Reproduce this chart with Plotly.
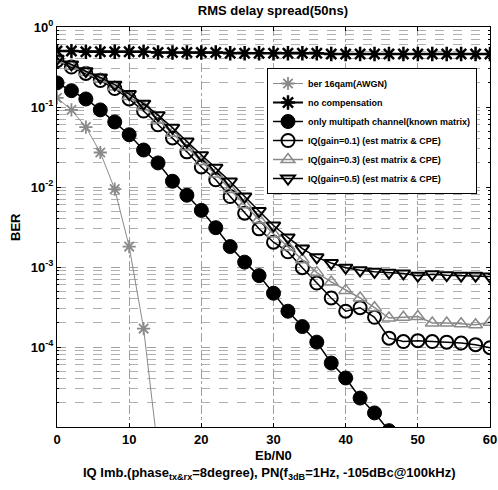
import plotly.graph_objects as go

# ---------------- data ----------------
ebn0 = [0, 2, 4, 6, 8, 10, 12, 14, 16, 18, 20, 22, 24, 26, 28, 30,
        32, 34, 36, 38, 40, 42, 44, 46, 48, 50, 52, 54, 56, 58, 60]

awgn_x = [0, 2, 4, 6, 8, 10, 12, 14]
awgn_ber = [0.13, 0.092, 0.056, 0.027, 0.0094, 0.0018, 1.7e-4, 5e-6]

nocomp_ber = [0.50, 0.50, 0.49, 0.49, 0.49, 0.49, 0.49, 0.48, 0.48, 0.48, 0.48,
              0.48, 0.47, 0.47, 0.47, 0.47, 0.47, 0.47, 0.47, 0.46, 0.46,
              0.46, 0.46, 0.46, 0.46, 0.46, 0.46, 0.46, 0.46, 0.46, 0.46]

multi_x = [0, 2, 4, 6, 8, 10, 12, 14, 16, 18, 20, 22, 24, 26, 28, 30,
           32, 34, 36, 38, 40, 42, 44, 46]
multi_ber = [0.2, 0.16, 0.126, 0.092, 0.065, 0.045, 0.029, 0.02, 0.0118, 0.0079,
             0.0051, 0.0031, 0.0018, 0.00115, 7.8e-4, 4.7e-4, 2.8e-4, 1.8e-4,
             1.15e-4, 6.3e-5, 4.1e-5, 2.3e-5, 1.5e-5, 9e-6]

iq01_ber = [0.38, 0.316, 0.263, 0.214, 0.17, 0.126, 0.089, 0.060, 0.041, 0.0275,
            0.0178, 0.0123, 0.0076, 0.0047, 0.0030, 0.00204, 0.00155, 9.8e-4,
            6.3e-4, 4.1e-4, 2.8e-4, 3.1e-4, 2.35e-4, 1.29e-4, 1.17e-4, 1.2e-4,
            1.17e-4, 1.15e-4, 1.12e-4, 1.07e-4, 9.8e-5]

iq03_ber = [0.39, 0.324, 0.27, 0.224, 0.178, 0.135, 0.1, 0.069, 0.047, 0.0316,
            0.0209, 0.0145, 0.0093, 0.006, 0.0039, 0.0026, 0.00178, 0.00123,
            8.5e-4, 6.5e-4, 5.1e-4, 4.1e-4, 3.1e-4, 2.3e-4, 2.35e-4, 2.4e-4,
            2.0e-4, 2.0e-4, 1.95e-4, 1.9e-4, 2.04e-4]

iq05_ber = [0.40, 0.34, 0.28, 0.234, 0.19, 0.145, 0.11, 0.079, 0.055, 0.037,
            0.025, 0.0174, 0.0117, 0.0076, 0.005, 0.0033, 0.00234, 0.0017,
            0.00132, 0.00112, 9.8e-4, 9.1e-4, 8.7e-4, 8.5e-4, 8.3e-4, 7.8e-4,
            8.1e-4, 7.9e-4, 7.8e-4, 7.8e-4, 7.6e-4]

names = ["ber 16qam(AWGN)", "no compensation", "only multipath channel(known matrix)",
         "IQ(gain=0.1) (est matrix & CPE)", "IQ(gain=0.3) (est matrix & CPE)",
         "IQ(gain=0.5) (est matrix & CPE)"]

x_ticks = [0, 10, 20, 30, 40, 50, 60]
y_ticks = [1, 0.1, 0.01, 0.001, 0.0001]
y_ticktext = ["10<sup>0</sup>", "10<sup>-1</sup>", "10<sup>-2</sup>",
              "10<sup>-3</sup>", "10<sup>-4</sup>"]

FONT = "Arial, Liberation Sans, Helvetica, sans-serif"
GRAY = "#8a8a8a"

fig = go.Figure()
fig.add_trace(go.Scatter(x=awgn_x, y=awgn_ber, name=names[0], mode="lines+markers",
                         line=dict(color=GRAY, width=1),
                         marker=dict(symbol="asterisk-open", size=11,
                                     line=dict(color=GRAY, width=1.8))))
fig.add_trace(go.Scatter(x=ebn0, y=nocomp_ber, name=names[1], mode="lines+markers",
                         line=dict(color="black", width=2),
                         marker=dict(symbol="asterisk-open", size=12,
                                     line=dict(color="black", width=2.5))))
fig.add_trace(go.Scatter(x=multi_x, y=multi_ber, name=names[2], mode="lines+markers",
                         line=dict(color="black", width=1.5),
                         marker=dict(symbol="circle", size=14, color="black",
                                     line=dict(color="black", width=1))))
fig.add_trace(go.Scatter(x=ebn0, y=iq01_ber, name=names[3], mode="lines+markers",
                         line=dict(color="black", width=1.5),
                         marker=dict(symbol="circle-open", size=13,
                                     line=dict(color="black", width=2))))
fig.add_trace(go.Scatter(x=ebn0, y=iq03_ber, name=names[4], mode="lines+markers",
                         line=dict(color=GRAY, width=1.5),
                         marker=dict(symbol="triangle-up-open", size=12,
                                     line=dict(color="#555555", width=1.5))))
fig.add_trace(go.Scatter(x=ebn0, y=iq05_ber, name=names[5], mode="lines+markers",
                         line=dict(color="black", width=1.5),
                         marker=dict(symbol="triangle-down-open", size=12,
                                     line=dict(color="black", width=2))))

fig.update_layout(
    width=498, height=490,
    margin=dict(l=57, r=8, t=27, b=63),
    paper_bgcolor="white", plot_bgcolor="white",
    font=dict(family=FONT, color="black"),
    title=dict(text="RMS delay spread(50ns)", x=0.548, xanchor="center",
               y=0.978, yanchor="middle",
               font=dict(size=13, weight="bold", family=FONT)),
    legend=dict(x=0.485, y=0.8975, xanchor="left", yanchor="top",
                bgcolor="white", bordercolor="black", borderwidth=1,
                font=dict(size=9, weight="bold", family=FONT),
                tracegroupgap=0, itemwidth=30),
    showlegend=True,
)
fig.update_xaxes(range=[0, 60], tickvals=x_ticks, ticktext=[str(v) for v in x_ticks],
                 showline=True, linecolor="black", linewidth=1, mirror="allticks",
                 ticks="inside", ticklen=4, tickcolor="black",
                 showgrid=True, gridcolor="#a0a0a0", griddash="dashdot", gridwidth=1,
                 zeroline=False, automargin=False,
                 tickfont=dict(size=13, weight="bold", family=FONT))
fig.update_yaxes(type="log", range=[-5, 0], tickvals=y_ticks, ticktext=y_ticktext,
                 showline=True, linecolor="black", linewidth=1, mirror="allticks",
                 ticks="inside", ticklen=4, tickcolor="black",
                 showgrid=True, gridcolor="#a0a0a0", griddash="dash", gridwidth=1,
                 zeroline=False, automargin=False,
                 minor=dict(dtick="D1", showgrid=True, gridcolor="#b0b0b0",
                            griddash="dash", ticks="inside", ticklen=2,
                            tickcolor="black"),
                 tickfont=dict(size=13, weight="bold", family=FONT))

fig.add_annotation(text="Eb/N0", xref="paper", yref="paper", x=0.5, y=-0.07,
                   xanchor="center", yanchor="middle", showarrow=False,
                   font=dict(size=13, weight="bold", family=FONT))
fig.add_annotation(text="IQ Imb.(phase<sub>tx&rx</sub>=8degree), PN(f<sub>3dB</sub>=1Hz, -105dBc@100kHz)",
                   xref="paper", yref="paper", x=0.49, y=-0.115,
                   xanchor="center", yanchor="middle", showarrow=False,
                   font=dict(size=13, weight="bold", family=FONT))
fig.add_annotation(text="BER", xref="paper", yref="paper", x=-0.097, y=0.5,
                   xanchor="center", yanchor="middle", showarrow=False, textangle=-90,
                   font=dict(size=13, weight="bold", family=FONT))

fig.write_html("out.html", config={"displayModeBar": False},
               post_script="document.body.style.margin='0px';")
